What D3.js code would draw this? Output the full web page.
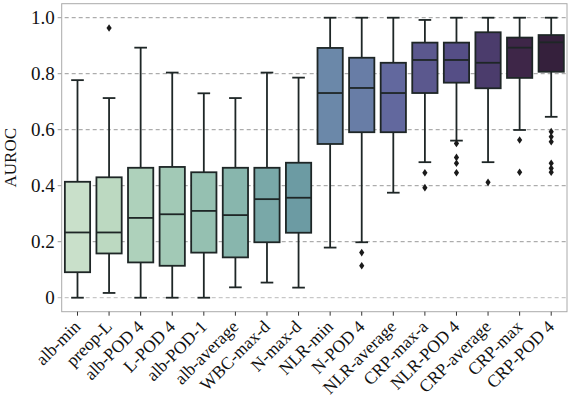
<!DOCTYPE html>
<html><head><meta charset="utf-8">
<script src="https://cdn.jsdelivr.net/npm/d3@7"></script>
<style>
html,body{margin:0;padding:0;background:#fff;}
svg{display:block;font-family:"Liberation Serif","DejaVu Serif",serif;}
</style></head>
<body>
<svg id="chart" width="573" height="399"></svg>
<script>
const categories = ["alb-min","preop-L","alb-POD 4","L-POD 4","alb-POD-1","alb-average","WBC-max-d","N-max-d","NLR-min","N-POD 4","NLR-average","CRP-max-a","NLR-POD 4","CRP-average","CRP-max","CRP-POD 4"];
const whiskerLow  = [0, 0.017, 0, 0, 0, 0.037, 0.054, 0.036, 0.179, 0.198, 0.375, 0.484, 0.561, 0.484, 0.599, 0.646];
const q1          = [0.091, 0.158, 0.126, 0.114, 0.161, 0.144, 0.198, 0.232, 0.549, 0.591, 0.591, 0.731, 0.768, 0.748, 0.785, 0.807];
const medians     = [0.233, 0.233, 0.285, 0.298, 0.310, 0.295, 0.352, 0.357, 0.731, 0.749, 0.731, 0.849, 0.849, 0.839, 0.893, 0.912];
const q3          = [0.414, 0.430, 0.464, 0.467, 0.448, 0.464, 0.464, 0.482, 0.892, 0.857, 0.839, 0.911, 0.911, 0.948, 0.929, 0.938];
const whiskerHigh = [0.777, 0.713, 0.893, 0.804, 0.730, 0.713, 0.804, 0.786, 1, 1, 1, 0.992, 1, 1, 1, 1];
const outliers = [[],[0.963],[],[],[],[],[],[],[],[0.161,0.114],[],[0.446,0.393],[0.551,0.501,0.480,0.446],[0.412],[0.563,0.448],[0.593,0.575,0.557,0.480,0.462,0.448]];
const yTicks = [0, 0.2, 0.4, 0.6, 0.8, 1.0];
const yTickLabels = ["0","0.2","0.4","0.6","0.8","1.0"];
const yLabel = "AUROC";

const palette = ["#c9e0ca","#bcd9c1","#aed1bb","#a2c9b6","#95c0b1","#88b6ad","#79a8a8","#6c9ba3","#6b88a9","#687da6","#62689e","#5b588e","#554e86","#4b3c6c","#3e2648","#35203c"];

const svg = d3.select("#chart");
const L = 61.7, R = 567, T = 3.7, B = 311.7;
const x = d3.scaleBand().domain(categories).range([L, R]).padding(0);
const y = d3.scaleLinear().domain([-0.05, 1.05]).range([B, T]);
const bw = x.bandwidth() * 0.8;

// gridlines
svg.append("g").selectAll("line").data(yTicks).join("line")
  .attr("x1", L - 4).attr("x2", R)
  .attr("y1", d => y(d)).attr("y2", d => y(d))
  .attr("stroke", (d,i) => i === 0 ? "#bbb" : "#999")
  .attr("stroke-width", 1)
  .attr("stroke-dasharray", "4,3");

// y tick labels
svg.append("g").selectAll("text").data(yTicks).join("text")
  .attr("x", L - 7).attr("y", d => y(d)).attr("dy", "0.35em")
  .attr("text-anchor", "end").attr("font-size", 19).attr("fill", "#111")
  .text((d,i) => yTickLabels[i]);

// y label
svg.append("text")
  .attr("transform", `translate(16,${y(0.5)}) rotate(-90)`)
  .attr("text-anchor", "middle").attr("font-size", 17).attr("fill", "#111")
  .text(yLabel);

// frame
svg.append("rect").attr("x", L).attr("y", T).attr("width", R - L).attr("height", B - T)
  .attr("fill", "none").attr("stroke", "#aaa").attr("stroke-width", 1);

// x ticks
svg.append("g").selectAll("line").data(categories).join("line")
  .attr("x1", d => x(d) + x.bandwidth()/2).attr("x2", d => x(d) + x.bandwidth()/2)
  .attr("y1", B).attr("y2", B + 4).attr("stroke", "#333").attr("stroke-width", 1);

svg.append("g").selectAll("text").data(categories).join("text")
  .attr("transform", d => `translate(${x(d) + x.bandwidth()/2 + 4},${B + 16}) rotate(-45)`)
  .attr("text-anchor", "end").attr("font-size", 17.5).attr("fill", "#111")
  .text(d => d);

// boxes
const lineColor = "#1e2626";
const sw = 1.8;
const g = svg.append("g");
categories.forEach((c, i) => {
  const cx = x(c) + x.bandwidth()/2;
  const grp = g.append("g");
  grp.append("line").attr("x1", cx).attr("x2", cx).attr("y1", y(q3[i])).attr("y2", y(whiskerHigh[i]))
    .attr("stroke", lineColor).attr("stroke-width", sw);
  grp.append("line").attr("x1", cx).attr("x2", cx).attr("y1", y(q1[i])).attr("y2", y(whiskerLow[i]))
    .attr("stroke", lineColor).attr("stroke-width", sw);
  [whiskerHigh[i], whiskerLow[i]].forEach(v => {
    grp.append("line").attr("x1", cx - bw/4).attr("x2", cx + bw/4).attr("y1", y(v)).attr("y2", y(v))
      .attr("stroke", lineColor).attr("stroke-width", sw);
  });
  grp.append("rect").attr("x", cx - bw/2).attr("width", bw)
    .attr("y", y(q3[i])).attr("height", y(q1[i]) - y(q3[i]))
    .attr("fill", palette[i]).attr("stroke", lineColor).attr("stroke-width", sw);
  grp.append("line").attr("x1", cx - bw/2).attr("x2", cx + bw/2).attr("y1", y(medians[i])).attr("y2", y(medians[i]))
    .attr("stroke", lineColor).attr("stroke-width", sw);
  grp.selectAll("path.out").data(outliers[i]).join("path")
    .attr("transform", v => `translate(${cx},${y(v)})`)
    .attr("d", "M0,-3.8L2.6,0L0,3.8L-2.6,0Z")
    .attr("fill", "#1a1a1a");
});
</script>
</body></html>
